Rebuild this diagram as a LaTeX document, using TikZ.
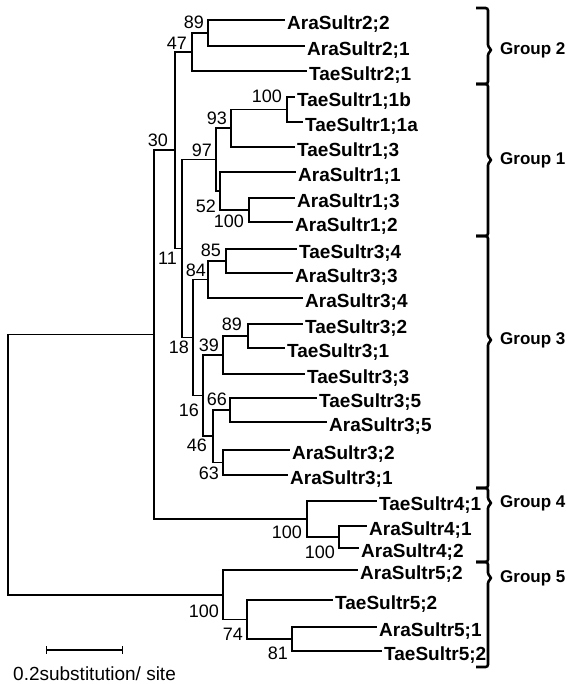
\documentclass[tikz,border=0pt]{standalone}
\usepackage{fontspec}
\setmainfont{Liberation Sans}
\begin{document}
\begin{tikzpicture}[x=1pt,y=-1pt,
  leaf/.style={anchor=west,font=\fontsize{19}{19}\selectfont\bfseries,inner xsep=2pt,inner ysep=0pt,text height=19pt,text depth=0pt},
  bsup/.style={anchor=south east,font=\fontsize{18}{18}\selectfont,inner sep=0pt},
  bsdn/.style={anchor=north east,font=\fontsize{18}{18}\selectfont,inner sep=0pt},
  br/.style={line width=1.1pt},
  grp/.style={line width=2.6pt,rounded corners=2.5pt},
  gname/.style={anchor=west,font=\fontsize{17}{17}\selectfont\bfseries,inner sep=0pt}]
  \useasboundingbox (0,0) rectangle (584,684);
  \node[leaf] (ara22) at (285,20) {AraSultr2;2};
  \node[leaf] (ara21) at (305,46) {AraSultr2;1};
  \node[leaf] (tae21) at (307,71) {TaeSultr2;1};
  \node[leaf] (tae11b) at (295,97) {TaeSultr1;1b};
  \node[leaf] (tae11a) at (303,122) {TaeSultr1;1a};
  \node[leaf] (tae13) at (295,147) {TaeSultr1;3};
  \node[leaf] (ara11) at (296,172) {AraSultr1;1};
  \node[leaf] (ara13) at (295,198) {AraSultr1;3};
  \node[leaf] (ara12) at (293,222) {AraSultr1;2};
  \node[leaf] (tae34) at (297,249) {TaeSultr3;4};
  \node[leaf] (ara33) at (293,273) {AraSultr3;3};
  \node[leaf] (ara34) at (303,298) {AraSultr3;4};
  \node[leaf] (tae32) at (303,324) {TaeSultr3;2};
  \node[leaf] (tae31) at (285,348) {TaeSultr3;1};
  \node[leaf] (tae33) at (305,374) {TaeSultr3;3};
  \node[leaf] (tae35) at (317,398) {TaeSultr3;5};
  \node[leaf] (ara35) at (327,422) {AraSultr3;5};
  \node[leaf] (ara32) at (290,450) {AraSultr3;2};
  \node[leaf] (ara31) at (288,475) {AraSultr3;1};
  \node[leaf] (tae41) at (377,501) {TaeSultr4;1};
  \node[leaf] (ara41) at (367,526) {AraSultr4;1};
  \node[leaf] (ara42) at (359,548) {AraSultr4;2};
  \node[leaf] (ara52) at (358,570) {AraSultr5;2};
  \node[leaf] (tae52a) at (333,600) {TaeSultr5;2};
  \node[leaf] (ara51) at (377,627) {AraSultr5;1};
  \node[leaf] (tae52b) at (382,651) {TaeSultr5;2};
  \coordinate (n89) at (208,33);
  \coordinate (n47) at (192,52);
  \coordinate (n100a) at (287,109.5);
  \coordinate (n93) at (231,128);
  \coordinate (n100b) at (249,210);
  \coordinate (n52) at (220,191);
  \coordinate (n97) at (216,159.5);
  \coordinate (n85) at (226,261);
  \coordinate (n84) at (208,279.5);
  \coordinate (n89b) at (248,336);
  \coordinate (n39) at (223,355);
  \coordinate (n66) at (230,410);
  \coordinate (n63) at (223,462.5);
  \coordinate (n46) at (213,436);
  \coordinate (n16) at (203,395.5);
  \coordinate (n18) at (193,337.5);
  \coordinate (n11) at (182,248.5);
  \coordinate (n30) at (175,150);
  \coordinate (nA) at (154,334.5);
  \coordinate (n100c) at (339,537);
  \coordinate (n100d) at (307,519);
  \coordinate (n81) at (292,639);
  \coordinate (n74) at (247,619.5);
  \coordinate (n100e) at (223,595);
  \coordinate (root) at (8,464.75);
  \foreach \p/\c in {n89/ara22,n89/ara21,n47/n89,n47/tae21,n100a/tae11b,n100a/tae11a,
    n93/n100a,n93/tae13,n100b/ara13,n100b/ara12,n52/ara11,n52/n100b,n97/n93,n97/n52,
    n85/tae34,n85/ara33,n84/n85,n84/ara34,n89b/tae32,n89b/tae31,n39/n89b,n39/tae33,
    n66/tae35,n66/ara35,n63/ara32,n63/ara31,n46/n66,n46/n63,n16/n39,n16/n46,
    n18/n84,n18/n16,n11/n97,n11/n18,n30/n47,n30/n11,nA/n30,nA/n100d,
    n100c/ara41,n100c/ara42,n100d/tae41,n100d/n100c,n81/ara51,n81/tae52b,
    n74/tae52a,n74/n81,n100e/ara52,n100e/n74,root/nA,root/n100e}
    \draw[br] (\p) |- (\c);
  \node[bsup] (b89) at (204,29) {89};
  \node[bsup] (b47) at (187,50) {47};
  \node[bsup] (b100a) at (282,103) {100};
  \node[bsup] (b93) at (227,125) {93};
  \node[bsup] (b97) at (212,157) {97};
  \node[bsup] (b30) at (168,147) {30};
  \node[bsup] (b85) at (221,257) {85};
  \node[bsup] (b84) at (206,277) {84};
  \node[bsup] (b89b) at (242,331) {89};
  \node[bsup] (b39) at (219,352) {39};
  \node[bsup] (b66) at (227,406) {66};
  \node[bsdn] (b52) at (216,200) {52};
  \node[bsdn] (b100b) at (244,215) {100};
  \node[bsdn] (b11) at (177,252) {11};
  \node[bsdn] (b18) at (189,341) {18};
  \node[bsdn] (b16) at (199,404) {16};
  \node[bsdn] (b46) at (207,439) {46};
  \node[bsdn] (b63) at (219,467) {63};
  \node[bsdn] (b100d) at (302,526) {100};
  \node[bsdn] (b100c) at (335,546) {100};
  \node[bsdn] (b100e) at (219,605) {100};
  \node[bsdn] (b74) at (243,628) {74};
  \node[bsdn] (b81) at (288,647) {81};
  \coordinate (sb0) at (46,650);
  \coordinate (sb1) at (123,650);
  \draw[br,|-|] (sb0) -- (sb1);
  \node[anchor=base west,font=\fontsize{19}{19}\selectfont,inner sep=0pt] (sbl) at (13,680) {0.2substitution/ site};
  \foreach \t/\b/\m/\g in {8/84/50/2,84/236/160/1,236/488/340/3,488/562/503/4,562/667/578/5}{
    \draw[grp] (476,\t) -- (488,\t) -- (488,\m-3) -- (492,\m) -- (488,\m+3) -- (488,\b) -- (476,\b);
    \node[gname] (g\g) at (500,\m) {Group \g};
  }
\end{tikzpicture}
\end{document}
